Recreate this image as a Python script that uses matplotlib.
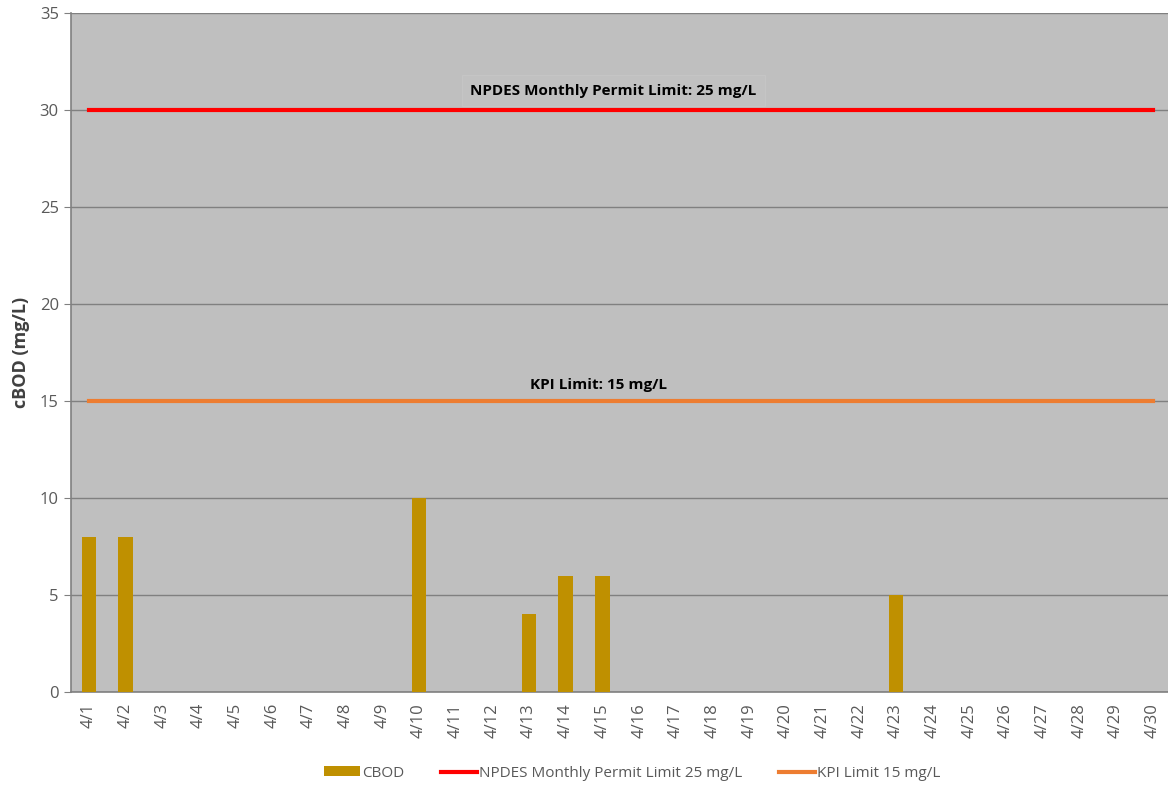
import matplotlib.pyplot as plt
import numpy as np

# Data
days = [f"4/{d}" for d in range(1, 31)]
cbod = [8, 8, 0, 0, 0, 0, 0, 0, 0, 10, 0, 0, 4, 6, 6, 0, 0, 0, 0, 0,
        0, 0, 5, 0, 0, 0, 0, 0, 0, 0]
npdes_limit = [30] * 30
kpi_limit = [15] * 30

plt.rcParams['font.family'] = ['Open Sans', 'DejaVu Sans']

fig = plt.figure(figsize=(11.68, 7.89), dpi=100)
ax = fig.add_axes([0.0605, 0.123, 0.942, 0.8605])
ax.set_facecolor('#BFBFBF')

x = np.arange(len(days))
bars = ax.bar(x, cbod, width=0.4, color='#BF9000', label='CBOD', zorder=3)
l1, = ax.plot(x, npdes_limit, color='#FF0000', linewidth=3,
              label='NPDES Monthly Permit Limit 25 mg/L', zorder=4)
l2, = ax.plot(x, kpi_limit, color='#ED7D31', linewidth=3,
              label='KPI Limit 15 mg/L', zorder=4)

ax.set_xlim(-0.5, len(days) - 0.5)
ax.set_ylim(0, 35)
ax.set_yticks(np.arange(0, 36, 5))
ax.set_xticks(x)
ax.set_xticklabels(days, rotation=90)
ax.tick_params(axis='both', colors='#595959', labelsize=12)
ax.tick_params(axis='x', length=0, pad=8)
ax.tick_params(axis='y', length=5, color='#808080')
ax.grid(axis='y', color='#808080', linewidth=1, zorder=1)

for s in ['top', 'right']:
    ax.spines[s].set_visible(False)
for s in ['left', 'bottom']:
    ax.spines[s].set_color('#808080')
    ax.spines[s].set_linewidth(1.2)

ax.set_ylabel('cBOD (mg/L)', fontsize=13, fontweight='bold', color='#404040',
              labelpad=7)

# Limit annotations
ax.text(14.3, 31.0, 'NPDES Monthly Permit Limit: 25 mg/L', ha='center',
        va='center', fontsize=11, fontweight='bold', color='black',
        bbox=dict(boxstyle='square,pad=0.55', facecolor='#C1C1C1',
                  edgecolor='#C6C6C6', linewidth=0.6), zorder=5)
ax.text(13.9, 15.8, 'KPI Limit: 15 mg/L', ha='center', va='center',
        fontsize=11, fontweight='bold', color='black', zorder=5)

fig.legend([bars, l1, l2], [bars.get_label(), l1.get_label(), l2.get_label()],
           loc='center', bbox_to_anchor=(0.541, 0.02), ncol=3, frameon=False,
           fontsize=11, labelcolor='#595959', handlelength=2.4,
           handleheight=0.6, handletextpad=0.1, columnspacing=2.4)

fig.savefig('out.png', dpi=100)
